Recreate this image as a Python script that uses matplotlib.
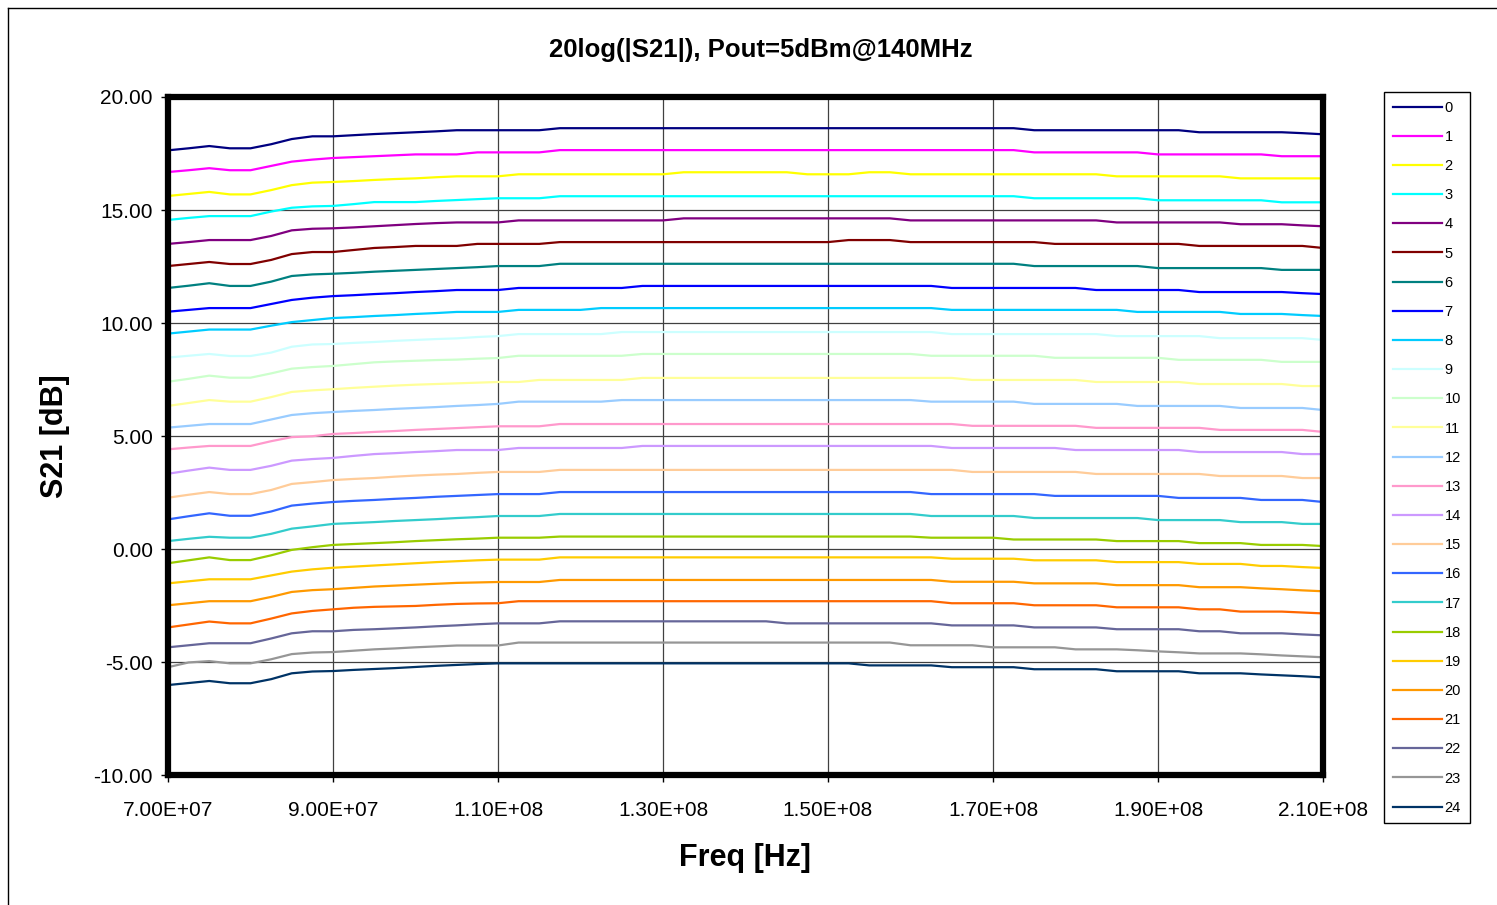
import matplotlib
matplotlib.use("Agg")
import matplotlib.pyplot as plt
from matplotlib.lines import Line2D
from matplotlib.ticker import FuncFormatter, MultipleLocator

plt.rcParams["font.family"] = ["Liberation Sans", "DejaVu Sans"]

# frequency grid (MHz)
freq_mhz = [70, 72.5, 75, 77.5, 80, 82.5, 85, 87.5, 90, 92.5,
            95, 97.5, 100, 102.5, 105, 107.5, 110, 112.5, 115, 117.5,
            120, 122.5, 125, 127.5, 130, 132.5, 135, 137.5, 140, 142.5,
            145, 147.5, 150, 152.5, 155, 157.5, 160, 162.5, 165, 167.5,
            170, 172.5, 175, 177.5, 180, 182.5, 185, 187.5, 190, 192.5,
            195, 197.5, 200, 202.5, 205, 207.5, 210]
xtick_hz = [7e7, 9e7, 1.1e8, 1.3e8, 1.5e8, 1.7e8, 1.9e8, 2.1e8]

# S21 in dB per setting
s21_0 = [17.64, 17.73, 17.83, 17.73, 17.73, 17.91, 18.14, 18.26, 18.26, 18.31,
         18.36, 18.40, 18.44, 18.48, 18.53, 18.53, 18.53, 18.53, 18.53, 18.62,
         18.62, 18.62, 18.62, 18.62, 18.62, 18.62, 18.62, 18.62, 18.62, 18.62,
         18.62, 18.62, 18.62, 18.62, 18.62, 18.62, 18.62, 18.62, 18.62, 18.62,
         18.62, 18.62, 18.53, 18.53, 18.53, 18.53, 18.53, 18.53, 18.53, 18.53,
         18.44, 18.44, 18.44, 18.44, 18.44, 18.40, 18.35]
s21_1 = [16.68, 16.76, 16.85, 16.76, 16.76, 16.95, 17.14, 17.23, 17.30, 17.34,
         17.38, 17.42, 17.46, 17.46, 17.46, 17.55, 17.55, 17.55, 17.55, 17.65,
         17.65, 17.65, 17.65, 17.65, 17.65, 17.65, 17.65, 17.65, 17.65, 17.65,
         17.65, 17.65, 17.65, 17.65, 17.65, 17.65, 17.65, 17.65, 17.65, 17.65,
         17.65, 17.65, 17.55, 17.55, 17.55, 17.55, 17.55, 17.55, 17.46, 17.46,
         17.46, 17.46, 17.46, 17.46, 17.38, 17.38, 17.38]
s21_2 = [15.62, 15.71, 15.80, 15.69, 15.69, 15.88, 16.10, 16.21, 16.24, 16.28,
         16.33, 16.37, 16.40, 16.45, 16.49, 16.49, 16.49, 16.58, 16.58, 16.58,
         16.58, 16.58, 16.58, 16.58, 16.58, 16.67, 16.67, 16.67, 16.67, 16.67,
         16.67, 16.58, 16.58, 16.58, 16.67, 16.67, 16.58, 16.58, 16.58, 16.58,
         16.58, 16.58, 16.58, 16.58, 16.58, 16.58, 16.49, 16.49, 16.49, 16.49,
         16.49, 16.49, 16.40, 16.40, 16.40, 16.40, 16.40]
s21_3 = [14.56, 14.65, 14.73, 14.73, 14.73, 14.93, 15.10, 15.16, 15.18, 15.26,
         15.35, 15.35, 15.35, 15.40, 15.44, 15.48, 15.52, 15.52, 15.52, 15.61,
         15.61, 15.61, 15.61, 15.61, 15.61, 15.61, 15.61, 15.61, 15.61, 15.61,
         15.61, 15.61, 15.61, 15.61, 15.61, 15.61, 15.61, 15.61, 15.61, 15.61,
         15.61, 15.61, 15.52, 15.52, 15.52, 15.52, 15.52, 15.52, 15.43, 15.43,
         15.43, 15.43, 15.43, 15.43, 15.34, 15.34, 15.34]
s21_4 = [13.50, 13.58, 13.67, 13.67, 13.67, 13.85, 14.10, 14.17, 14.19, 14.23,
         14.28, 14.33, 14.38, 14.42, 14.45, 14.45, 14.45, 14.54, 14.54, 14.54,
         14.54, 14.54, 14.54, 14.54, 14.54, 14.63, 14.63, 14.63, 14.63, 14.63,
         14.63, 14.63, 14.63, 14.63, 14.63, 14.63, 14.54, 14.54, 14.54, 14.54,
         14.54, 14.54, 14.54, 14.54, 14.54, 14.54, 14.45, 14.45, 14.45, 14.45,
         14.45, 14.45, 14.37, 14.37, 14.37, 14.32, 14.28]
s21_5 = [12.52, 12.61, 12.70, 12.61, 12.61, 12.79, 13.05, 13.14, 13.14, 13.23,
         13.32, 13.36, 13.41, 13.41, 13.41, 13.50, 13.50, 13.50, 13.50, 13.58,
         13.58, 13.58, 13.58, 13.58, 13.58, 13.58, 13.58, 13.58, 13.58, 13.58,
         13.58, 13.58, 13.58, 13.67, 13.67, 13.67, 13.58, 13.58, 13.58, 13.58,
         13.58, 13.58, 13.58, 13.50, 13.50, 13.50, 13.50, 13.50, 13.50, 13.50,
         13.41, 13.41, 13.41, 13.41, 13.41, 13.41, 13.32]
s21_6 = [11.55, 11.65, 11.76, 11.64, 11.64, 11.83, 12.08, 12.15, 12.18, 12.22,
         12.27, 12.31, 12.35, 12.39, 12.43, 12.47, 12.52, 12.52, 12.52, 12.62,
         12.62, 12.62, 12.62, 12.62, 12.62, 12.62, 12.62, 12.62, 12.62, 12.62,
         12.62, 12.62, 12.62, 12.62, 12.62, 12.62, 12.62, 12.62, 12.62, 12.62,
         12.62, 12.62, 12.52, 12.52, 12.52, 12.52, 12.52, 12.52, 12.43, 12.43,
         12.43, 12.43, 12.43, 12.43, 12.35, 12.35, 12.35]
s21_7 = [10.50, 10.58, 10.66, 10.66, 10.66, 10.84, 11.02, 11.12, 11.19, 11.23,
         11.28, 11.32, 11.37, 11.41, 11.46, 11.46, 11.46, 11.55, 11.55, 11.55,
         11.55, 11.55, 11.55, 11.64, 11.64, 11.64, 11.64, 11.64, 11.64, 11.64,
         11.64, 11.64, 11.64, 11.64, 11.64, 11.64, 11.64, 11.64, 11.55, 11.55,
         11.55, 11.55, 11.55, 11.55, 11.55, 11.46, 11.46, 11.46, 11.46, 11.46,
         11.37, 11.37, 11.37, 11.37, 11.37, 11.32, 11.28]
s21_8 = [9.53, 9.62, 9.71, 9.71, 9.71, 9.88, 10.04, 10.13, 10.22, 10.26,
         10.31, 10.35, 10.40, 10.44, 10.49, 10.49, 10.49, 10.58, 10.58, 10.58,
         10.58, 10.66, 10.66, 10.66, 10.66, 10.66, 10.66, 10.66, 10.66, 10.66,
         10.66, 10.66, 10.66, 10.66, 10.66, 10.66, 10.66, 10.66, 10.58, 10.58,
         10.58, 10.58, 10.58, 10.58, 10.58, 10.58, 10.58, 10.49, 10.49, 10.49,
         10.49, 10.49, 10.40, 10.40, 10.40, 10.35, 10.31]
s21_9 = [8.47, 8.55, 8.63, 8.54, 8.54, 8.69, 8.95, 9.05, 9.07, 9.12,
         9.16, 9.21, 9.25, 9.29, 9.32, 9.38, 9.42, 9.51, 9.51, 9.51,
         9.51, 9.51, 9.60, 9.60, 9.60, 9.60, 9.60, 9.60, 9.60, 9.60,
         9.60, 9.60, 9.60, 9.60, 9.60, 9.60, 9.60, 9.60, 9.51, 9.51,
         9.51, 9.51, 9.51, 9.51, 9.51, 9.51, 9.42, 9.42, 9.42, 9.42,
         9.42, 9.33, 9.33, 9.33, 9.33, 9.33, 9.25]
s21_10 = [7.40, 7.53, 7.67, 7.58, 7.58, 7.77, 7.98, 8.05, 8.10, 8.18,
          8.26, 8.30, 8.33, 8.36, 8.38, 8.42, 8.45, 8.55, 8.55, 8.55,
          8.55, 8.55, 8.55, 8.63, 8.63, 8.63, 8.63, 8.63, 8.63, 8.63,
          8.63, 8.63, 8.63, 8.63, 8.63, 8.63, 8.63, 8.55, 8.55, 8.55,
          8.55, 8.55, 8.55, 8.46, 8.46, 8.46, 8.46, 8.46, 8.46, 8.37,
          8.37, 8.37, 8.37, 8.37, 8.28, 8.28, 8.28]
s21_11 = [6.33, 6.46, 6.59, 6.52, 6.52, 6.72, 6.95, 7.02, 7.07, 7.13,
          7.18, 7.23, 7.27, 7.30, 7.33, 7.36, 7.39, 7.39, 7.48, 7.48,
          7.48, 7.48, 7.48, 7.57, 7.57, 7.57, 7.57, 7.57, 7.57, 7.57,
          7.57, 7.57, 7.57, 7.57, 7.57, 7.57, 7.57, 7.57, 7.57, 7.48,
          7.48, 7.48, 7.48, 7.48, 7.48, 7.39, 7.39, 7.39, 7.39, 7.39,
          7.30, 7.30, 7.30, 7.30, 7.30, 7.21, 7.21]
s21_12 = [5.37, 5.45, 5.53, 5.53, 5.53, 5.73, 5.93, 6.01, 6.06, 6.11,
          6.15, 6.20, 6.24, 6.28, 6.33, 6.37, 6.42, 6.52, 6.52, 6.52,
          6.52, 6.52, 6.59, 6.59, 6.59, 6.59, 6.59, 6.59, 6.59, 6.59,
          6.59, 6.59, 6.59, 6.59, 6.59, 6.59, 6.59, 6.52, 6.52, 6.52,
          6.52, 6.52, 6.42, 6.42, 6.42, 6.42, 6.42, 6.33, 6.33, 6.33,
          6.33, 6.33, 6.24, 6.24, 6.24, 6.24, 6.15]
s21_13 = [4.41, 4.49, 4.56, 4.56, 4.56, 4.77, 4.95, 4.99, 5.09, 5.13,
          5.18, 5.22, 5.27, 5.31, 5.35, 5.39, 5.43, 5.43, 5.43, 5.53,
          5.53, 5.53, 5.53, 5.53, 5.53, 5.53, 5.53, 5.53, 5.53, 5.53,
          5.53, 5.53, 5.53, 5.53, 5.53, 5.53, 5.53, 5.53, 5.53, 5.45,
          5.45, 5.45, 5.45, 5.45, 5.45, 5.36, 5.36, 5.36, 5.36, 5.36,
          5.36, 5.27, 5.27, 5.27, 5.27, 5.27, 5.18]
s21_14 = [3.33, 3.47, 3.60, 3.50, 3.50, 3.68, 3.91, 3.98, 4.03, 4.12,
          4.20, 4.24, 4.29, 4.33, 4.38, 4.38, 4.38, 4.47, 4.47, 4.47,
          4.47, 4.47, 4.47, 4.56, 4.56, 4.56, 4.56, 4.56, 4.56, 4.56,
          4.56, 4.56, 4.56, 4.56, 4.56, 4.56, 4.56, 4.56, 4.47, 4.47,
          4.47, 4.47, 4.47, 4.47, 4.38, 4.38, 4.38, 4.38, 4.38, 4.38,
          4.29, 4.29, 4.29, 4.29, 4.29, 4.20, 4.20]
s21_15 = [2.27, 2.40, 2.52, 2.43, 2.43, 2.61, 2.88, 2.96, 3.05, 3.10,
          3.14, 3.20, 3.25, 3.29, 3.32, 3.37, 3.41, 3.41, 3.41, 3.50,
          3.50, 3.50, 3.50, 3.50, 3.50, 3.50, 3.50, 3.50, 3.50, 3.50,
          3.50, 3.50, 3.50, 3.50, 3.50, 3.50, 3.50, 3.50, 3.50, 3.41,
          3.41, 3.41, 3.41, 3.41, 3.41, 3.32, 3.32, 3.32, 3.32, 3.32,
          3.32, 3.23, 3.23, 3.23, 3.23, 3.14, 3.14]
s21_16 = [1.31, 1.45, 1.58, 1.47, 1.47, 1.66, 1.92, 2.01, 2.08, 2.13,
          2.17, 2.22, 2.26, 2.31, 2.35, 2.39, 2.43, 2.43, 2.43, 2.52,
          2.52, 2.52, 2.52, 2.52, 2.52, 2.52, 2.52, 2.52, 2.52, 2.52,
          2.52, 2.52, 2.52, 2.52, 2.52, 2.52, 2.52, 2.43, 2.43, 2.43,
          2.43, 2.43, 2.43, 2.35, 2.35, 2.35, 2.35, 2.35, 2.35, 2.26,
          2.26, 2.26, 2.26, 2.17, 2.17, 2.17, 2.08]
s21_17 = [0.35, 0.45, 0.54, 0.50, 0.50, 0.67, 0.90, 1.00, 1.11, 1.15,
          1.19, 1.24, 1.28, 1.32, 1.37, 1.41, 1.46, 1.46, 1.46, 1.55,
          1.55, 1.55, 1.55, 1.55, 1.55, 1.55, 1.55, 1.55, 1.55, 1.55,
          1.55, 1.55, 1.55, 1.55, 1.55, 1.55, 1.55, 1.46, 1.46, 1.46,
          1.46, 1.46, 1.37, 1.37, 1.37, 1.37, 1.37, 1.37, 1.28, 1.28,
          1.28, 1.28, 1.19, 1.19, 1.19, 1.11, 1.11]
s21_18 = [-0.63, -0.50, -0.37, -0.49, -0.49, -0.28, -0.04, 0.08, 0.18, 0.22,
          0.26, 0.30, 0.35, 0.39, 0.43, 0.46, 0.50, 0.50, 0.50, 0.55,
          0.55, 0.55, 0.55, 0.55, 0.55, 0.55, 0.55, 0.55, 0.55, 0.55,
          0.55, 0.55, 0.55, 0.55, 0.55, 0.55, 0.55, 0.50, 0.50, 0.50,
          0.50, 0.42, 0.42, 0.42, 0.42, 0.42, 0.35, 0.35, 0.35, 0.35,
          0.26, 0.26, 0.26, 0.18, 0.18, 0.18, 0.13]
s21_19 = [-1.52, -1.43, -1.34, -1.34, -1.34, -1.17, -1.00, -0.90, -0.83, -0.78,
          -0.73, -0.68, -0.63, -0.58, -0.54, -0.50, -0.47, -0.47, -0.47, -0.37,
          -0.37, -0.37, -0.37, -0.37, -0.37, -0.37, -0.37, -0.37, -0.37, -0.37,
          -0.37, -0.37, -0.37, -0.37, -0.37, -0.37, -0.37, -0.37, -0.43, -0.43,
          -0.43, -0.43, -0.50, -0.50, -0.50, -0.50, -0.58, -0.58, -0.58, -0.58,
          -0.66, -0.66, -0.66, -0.75, -0.75, -0.80, -0.84]
s21_20 = [-2.49, -2.40, -2.31, -2.31, -2.31, -2.12, -1.90, -1.82, -1.78, -1.72,
          -1.66, -1.62, -1.58, -1.54, -1.50, -1.48, -1.46, -1.46, -1.46, -1.37,
          -1.37, -1.37, -1.37, -1.37, -1.37, -1.37, -1.37, -1.37, -1.37, -1.37,
          -1.37, -1.37, -1.37, -1.37, -1.37, -1.37, -1.37, -1.37, -1.45, -1.45,
          -1.45, -1.45, -1.52, -1.52, -1.52, -1.52, -1.60, -1.60, -1.60, -1.60,
          -1.69, -1.69, -1.69, -1.74, -1.78, -1.83, -1.87]
s21_21 = [-3.47, -3.34, -3.21, -3.29, -3.29, -3.08, -2.85, -2.74, -2.67, -2.60,
          -2.56, -2.54, -2.52, -2.47, -2.43, -2.41, -2.40, -2.31, -2.31, -2.31,
          -2.31, -2.31, -2.31, -2.31, -2.31, -2.31, -2.31, -2.31, -2.31, -2.31,
          -2.31, -2.31, -2.31, -2.31, -2.31, -2.31, -2.31, -2.31, -2.40, -2.40,
          -2.40, -2.40, -2.49, -2.49, -2.49, -2.49, -2.58, -2.58, -2.58, -2.58,
          -2.67, -2.67, -2.77, -2.77, -2.77, -2.81, -2.85]
s21_22 = [-4.35, -4.26, -4.17, -4.17, -4.17, -3.96, -3.73, -3.64, -3.64, -3.58,
          -3.55, -3.51, -3.47, -3.42, -3.38, -3.33, -3.29, -3.29, -3.29, -3.20,
          -3.20, -3.20, -3.20, -3.20, -3.20, -3.20, -3.20, -3.20, -3.20, -3.20,
          -3.29, -3.29, -3.29, -3.29, -3.29, -3.29, -3.29, -3.29, -3.38, -3.38,
          -3.38, -3.38, -3.47, -3.47, -3.47, -3.47, -3.55, -3.55, -3.55, -3.55,
          -3.64, -3.64, -3.73, -3.73, -3.73, -3.78, -3.82]
s21_23 = [-5.23, -5.02, -4.96, -5.06, -5.06, -4.88, -4.65, -4.58, -4.56, -4.50,
          -4.44, -4.40, -4.35, -4.31, -4.27, -4.27, -4.27, -4.14, -4.14, -4.14,
          -4.14, -4.14, -4.14, -4.14, -4.14, -4.14, -4.14, -4.14, -4.14, -4.14,
          -4.14, -4.14, -4.14, -4.14, -4.14, -4.14, -4.26, -4.26, -4.26, -4.26,
          -4.35, -4.35, -4.35, -4.35, -4.44, -4.44, -4.44, -4.48, -4.53, -4.57,
          -4.62, -4.62, -4.62, -4.66, -4.71, -4.75, -4.79]
s21_24 = [-6.02, -5.93, -5.84, -5.94, -5.94, -5.76, -5.50, -5.42, -5.40, -5.35,
          -5.31, -5.27, -5.22, -5.17, -5.13, -5.09, -5.06, -5.06, -5.06, -5.06,
          -5.06, -5.06, -5.06, -5.06, -5.06, -5.06, -5.06, -5.06, -5.06, -5.06,
          -5.06, -5.06, -5.06, -5.06, -5.15, -5.15, -5.15, -5.15, -5.23, -5.23,
          -5.23, -5.23, -5.32, -5.32, -5.32, -5.32, -5.41, -5.41, -5.41, -5.41,
          -5.50, -5.50, -5.50, -5.55, -5.59, -5.63, -5.68]

curves = [s21_0, s21_1, s21_2, s21_3, s21_4, s21_5, s21_6, s21_7, s21_8, s21_9,
          s21_10, s21_11, s21_12, s21_13, s21_14, s21_15, s21_16, s21_17, s21_18,
          s21_19, s21_20, s21_21, s21_22, s21_23, s21_24]
labels = [str(i) for i in range(25)]

# Excel default series palette
colors = ["#000080", "#FF00FF", "#FFFF00", "#00FFFF", "#800080", "#800000",
          "#008080", "#0000FF", "#00CCFF", "#CCFFFF", "#CCFFCC", "#FFFF99",
          "#99CCFF", "#FF99CC", "#CC99FF", "#FFCC99", "#3366FF", "#33CCCC",
          "#99CC00", "#FFCC00", "#FF9900", "#FF6600", "#666699", "#969696",
          "#003366"]

W, H = 1497, 905
fig = plt.figure(figsize=(W / 100, H / 100), dpi=100)
ax = fig.add_axes([168 / W, 1 - 775 / H, 1155 / W, 678 / H])

freq_hz = [f * 1e6 for f in freq_mhz]
for vals, c, lab in zip(curves, colors, labels):
    ax.plot(freq_hz, vals, color=c, lw=1.6, label=lab)

ax.set_xlim(7e7, 2.1e8)
ax.set_ylim(-10, 20)
ax.set_xticks(xtick_hz)
ax.yaxis.set_major_locator(MultipleLocator(5))
ax.xaxis.set_major_formatter(FuncFormatter(lambda v, p: f"{v:.2E}"))
ax.yaxis.set_major_formatter(FuncFormatter(lambda v, p: f"{v:.2f}"))
ax.grid(True, color="#404040", lw=0.9)
ax.set_axisbelow(True)
for s in ax.spines.values():
    s.set_linewidth(4.5)
ax.tick_params(direction="out", length=5, width=1, labelsize=15)
ax.tick_params(axis="x", pad=14)
ax.tick_params(axis="y", pad=6)

fig.text(761 / W, 1 - 50 / H, "20log(|S21|), Pout=5dBm@140MHz",
         ha="center", va="center", fontsize=18.5, fontweight="bold")
fig.text(55 / W, 1 - 436 / H, "S21 [dB]", rotation=90, ha="center",
         va="center", fontsize=22, fontweight="bold")
fig.text(745 / W, 1 - 858 / H, "Freq [Hz]", ha="center", va="center",
         fontsize=22, fontweight="bold")

# chart area border (left and top visible)
fig.add_artist(Line2D([8 / W, 8 / W], [0, 1 - 8 / H], transform=fig.transFigure,
                      color="black", lw=1))
fig.add_artist(Line2D([8 / W, 1], [1 - 8 / H, 1 - 8 / H], transform=fig.transFigure,
                      color="black", lw=1))

leg = fig.legend(loc="upper left", bbox_to_anchor=(1384 / W, 1 - 92 / H),
                 frameon=True, fancybox=False, edgecolor="black", framealpha=1,
                 fontsize=10.5, handlelength=3.4, handletextpad=0.15,
                 labelspacing=1.04, borderpad=0.6, borderaxespad=0)
leg.get_frame().set_linewidth(1.0)

fig.savefig("out.png", dpi=100)
